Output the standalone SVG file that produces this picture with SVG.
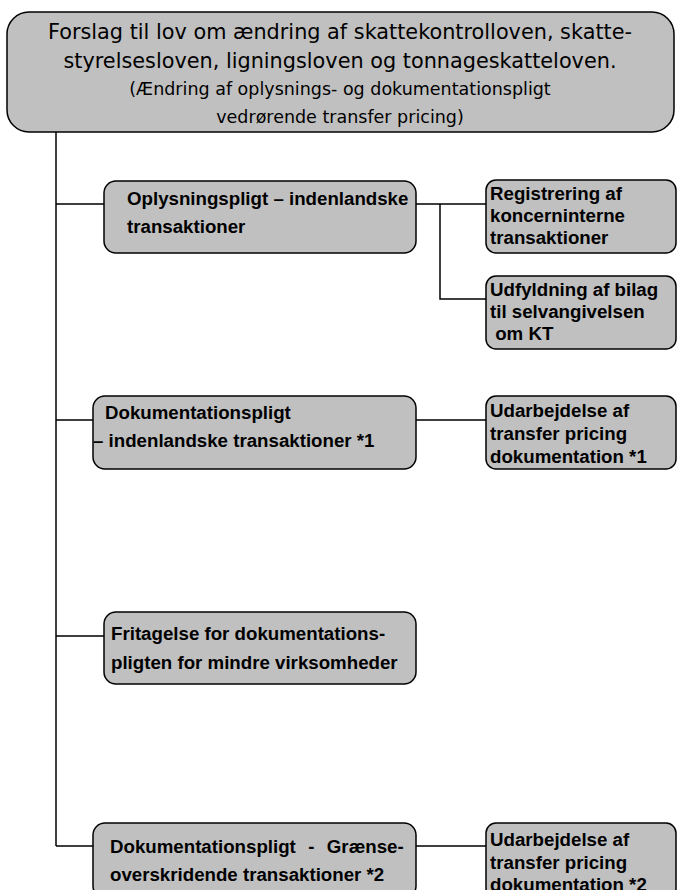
<svg xmlns="http://www.w3.org/2000/svg" width="677" height="890" viewBox="0 0 677 890">
<style>
.box{fill:#c0c0c0;stroke:#000;stroke-width:1.5}
.ln{fill:none;stroke:#000;stroke-width:1.5}
.t{font-family:"DejaVu Sans",Verdana,sans-serif;fill:#000;text-anchor:middle}
.t1{font-size:20.8px}
.t2{font-size:17.5px}
.b{font-family:"Liberation Sans",Arial,sans-serif;font-weight:bold;font-size:18.7px;fill:#000}
</style>
<rect width="677" height="890" fill="#fff"/>
<g id="connectors">
<path class="ln" d="M56,132 V846 M56,204 H104 M416,204 H486 M440,204 V299 H486 M56,420 H93 M416,420 H486 M56,636 H104 M56,846 H93 M416,846 H486"/>
</g>
<g id="root">
<rect class="box" x="7" y="12" width="667" height="120" rx="22"/>
<text class="t t1" x="340" y="39">Forslag til lov om ændring af skattekontrolloven, skatte-</text>
<text class="t t1" x="340" y="68">styrelsesloven, ligningsloven og tonnageskatteloven.</text>
<text class="t t2" x="340" y="95">(Ændring af oplysnings- og dokumentationspligt</text>
<text class="t t2" x="340" y="123">vedrørende transfer pricing)</text>
</g>
<g id="n1">
<rect class="box" x="104" y="181" width="312" height="72" rx="12"/>
<text class="b" x="127" y="205">Oplysningspligt – indenlandske</text>
<text class="b" x="127" y="233">transaktioner</text>
</g>
<g id="n1a">
<rect class="box" x="486" y="180" width="190" height="73" rx="10"/>
<text class="b" x="490" y="200">Registrering af</text>
<text class="b" x="490" y="222">koncerninterne</text>
<text class="b" x="490" y="244">transaktioner</text>
</g>
<g id="n1b">
<rect class="box" x="486" y="276" width="190" height="73" rx="10"/>
<text class="b" x="490" y="296">Udfyldning af bilag</text>
<text class="b" x="490" y="318">til selvangivelsen</text>
<text class="b" x="490" y="340" xml:space="preserve"> om KT</text>
</g>
<g id="n2">
<rect class="box" x="93" y="396" width="323" height="73" rx="12"/>
<text class="b" x="105" y="419">Dokumentationspligt</text>
<text class="b" x="93" y="447">– indenlandske transaktioner *1</text>
</g>
<g id="n2a">
<rect class="box" x="486" y="396" width="190" height="73" rx="10"/>
<text class="b" x="490" y="417">Udarbejdelse af</text>
<text class="b" x="490" y="440">transfer pricing</text>
<text class="b" x="490" y="463">dokumentation *1</text>
</g>
<g id="n3">
<rect class="box" x="104" y="612" width="312" height="72" rx="12"/>
<text class="b" x="111" y="640">Fritagelse for dokumentations-</text>
<text class="b" x="111" y="669">pligten for mindre virksomheder</text>
</g>
<g id="n4">
<rect class="box" x="93" y="823" width="323" height="75" rx="12"/>
<text class="b" x="110" y="853" xml:space="preserve" word-spacing="1">Dokumentationspligt  -  Grænse-</text>
<text class="b" x="110" y="881">overskridende transaktioner *2</text>
</g>
<g id="n4a">
<rect class="box" x="486" y="823" width="190" height="75" rx="10"/>
<text class="b" x="490" y="846">Udarbejdelse af</text>
<text class="b" x="490" y="869">transfer pricing</text>
<text class="b" x="490" y="891">dokumentation *2</text>
</g>
</svg>
